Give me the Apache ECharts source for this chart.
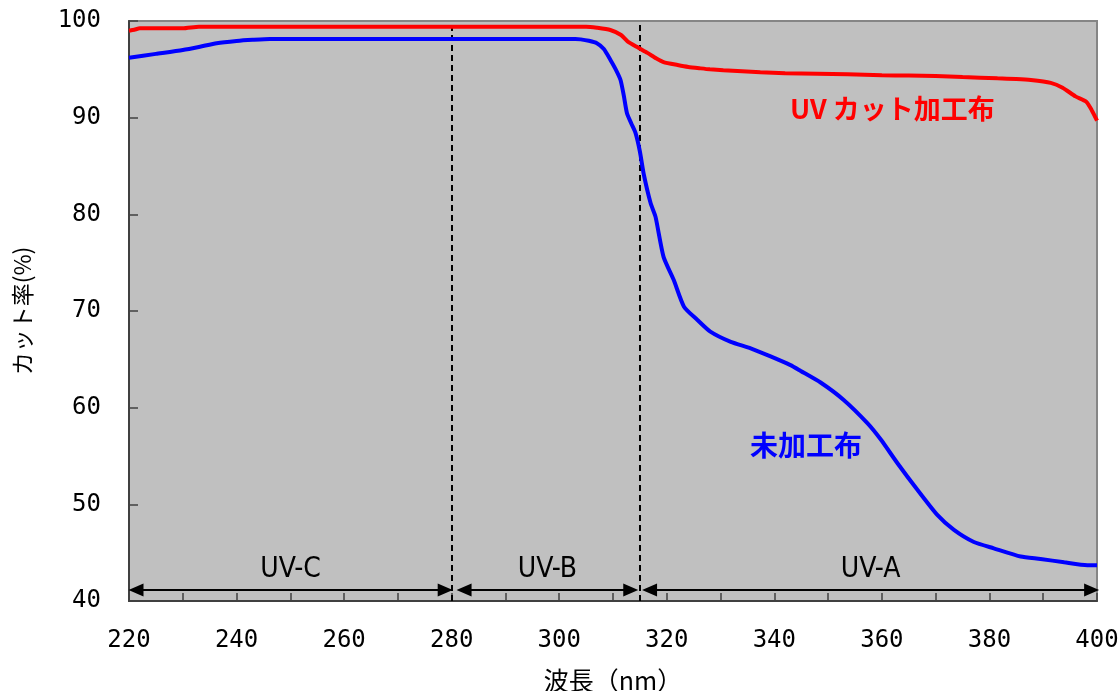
<!DOCTYPE html>
<html>
<head>
<meta charset="utf-8">
<script src="https://cdn.jsdelivr.net/npm/echarts@6/dist/echarts.min.js"></script>
<style>
html,body{margin:0;padding:0;background:#fff;}
#c{width:1119px;height:691px;}
</style>
</head>
<body>
<div id="c"></div>
<script>
// Wavelength (nm) and cut rate (%) for the UV-cut processed fabric
const redWl  = [220,221,222,230,233,250,280,300,305,307,309.5,311.5,312.7,314.5,316.4,318,319.4,322,324,326.3,328,330.5,334,337.4,342,348,353.6,360,365,370,375,381.5,385,387.7,391.4,393.6,396,398,399,400];
const redVal = [99.0,99.1,99.24,99.24,99.41,99.41,99.41,99.41,99.41,99.3,99.07,98.55,97.9,97.3,96.7,96.15,95.75,95.45,95.25,95.1,95.0,94.9,94.8,94.7,94.6,94.55,94.5,94.4,94.35,94.3,94.2,94.07,94.0,93.9,93.6,93.1,92.2,91.65,90.8,89.7];

// Wavelength (nm) and cut rate (%) for the untreated fabric
const blueWl  = [220,225,230,233.2,236.3,240,243,246.2,280,303,304,305.5,307,308.3,309.5,310.5,311.4,312,312.6,313.4,314.2,315,315.7,317,317.9,319.4,321.3,323.2,325.7,328.1,331.9,335.6,339.3,343,344.9,348.6,352.9,357.3,359.8,362.9,366.6,370.3,373.4,377.1,380.8,385.8,389.5,393.9,398.2,400];
const blueVal = [96.2,96.6,97.0,97.34,97.7,97.93,98.05,98.14,98.14,98.14,98.1,97.95,97.7,97.1,96.0,95.0,93.9,92.3,90.45,89.4,88.4,86.5,84.2,81.14,79.76,75.6,73.2,70.45,69.07,67.86,66.8,66.14,65.3,64.4,63.8,62.6,60.8,58.4,56.7,54.25,51.5,48.9,47.35,46.1,45.45,44.6,44.35,44.0,43.7,43.7];

// UV bands (arrows at the bottom) and band boundaries
const bandNames  = ['UV-C','UV-B','UV-A'];
const bandStarts = [220, 281, 315.5];
const bandEnds   = [280.1, 314.6, 400.3];
const bandArrowLevel = 41.14;
const boundaries = [280, 315];

// Axis ticks
const xTicks = [220,240,260,280,300,320,340,360,380,400];
const yTicks = [40,50,60,70,80,90,100];

const seriesNames = ['UV カット加工布','未加工布'];

const pair = (xs, ys) => xs.map((x, i) => [x, ys[i]]);

const chart = echarts.init(document.getElementById('c'));
const font = "'Noto Sans CJK JP', sans-serif";
const mono = "'DejaVu Sans Mono', monospace";
const narrow = "'Liberation Sans Narrow', 'DejaVu Sans Condensed', sans-serif";
const axisColor = '#404040';
const arrowInset = 1.3; // half arrow-head length in nm

chart.setOption({
  animation: false,
  grid: {
    left: 129, right: 22, top: 21, bottom: 90,
    containLabel: false, outerBoundsMode: 'none',
    show: true, backgroundColor: '#c0c0c0', borderColor: '#858585', borderWidth: 2
  },
  xAxis: {
    type: 'value', min: 220, max: 400, interval: 10,
    name: '波長（nm）', nameLocation: 'middle', nameGap: 67,
    nameTextStyle: { fontFamily: font, fontSize: 25, color: '#000' },
    axisLine: { show: true, lineStyle: { color: axisColor, width: 2 } },
    axisTick: { show: true, inside: true, length: 8, lineStyle: { color: axisColor, width: 1.5 } },
    axisLabel: {
      margin: 28, fontFamily: mono, fontSize: 24, color: '#000',
      formatter: v => xTicks.includes(v) ? String(v) : ''
    },
    splitLine: { show: false }
  },
  yAxis: {
    type: 'value', min: 40, max: 100, interval: 10,
    name: 'カット率(%)', nameLocation: 'middle', nameGap: 95, nameRotate: 90,
    nameTextStyle: { fontFamily: font, fontSize: 23, color: '#000' },
    axisLine: { show: true, lineStyle: { color: axisColor, width: 2 } },
    axisTick: { show: true, inside: true, length: 9, lineStyle: { color: axisColor, width: 1.5 } },
    axisLabel: {
      margin: 28, fontFamily: mono, fontSize: 24, color: '#000',
      padding: [5, 0, 0, 0],
      formatter: v => yTicks.includes(v) ? String(v) : ''
    },
    splitLine: { show: false }
  },
  series: [
    {
      name: seriesNames[0], type: 'line', data: pair(redWl, redVal),
      showSymbol: false, symbol: 'none', smooth: 0.2,
      lineStyle: { color: '#ff0000', width: 4 }, z: 5,
      markLine: {
        silent: true, symbol: 'none',
        lineStyle: { color: '#000', type: [6, 4], width: 2 },
        label: { show: false },
        data: boundaries.map(b => ({ xAxis: b }))
      }
    },
    {
      name: seriesNames[1], type: 'line', data: pair(blueWl, blueVal),
      showSymbol: false, symbol: 'none', smooth: 0.2,
      lineStyle: { color: '#0000ff', width: 4 }, z: 5,
      markLine: {
        silent: true,
        symbol: ['triangle', 'triangle'], symbolSize: [13, 15],
        lineStyle: { color: '#000', type: 'solid', width: 2 },
        itemStyle: { color: '#000' },
        label: {
          show: true, position: 'middle', distance: 6,
          fontFamily: narrow, fontSize: 28, color: '#000',
          formatter: p => p.name
        },
        data: bandNames.map((n, i) => [
          { name: n, coord: [bandStarts[i] + arrowInset, bandArrowLevel] },
          { coord: [bandEnds[i] - arrowInset, bandArrowLevel] }
        ])
      }
    }
  ],
  graphic: [
    { type: 'text', left: 790, top: 95, z: 10,
      style: { text: seriesNames[0], fill: '#ff0000', font: "bold 27px 'Noto Sans CJK JP', sans-serif" } },
    { type: 'text', left: 750, top: 431, z: 10,
      style: { text: seriesNames[1], fill: '#0000ff', font: "bold 28px 'Noto Sans CJK JP', sans-serif" } }
  ]
});
</script>
</body>
</html>
